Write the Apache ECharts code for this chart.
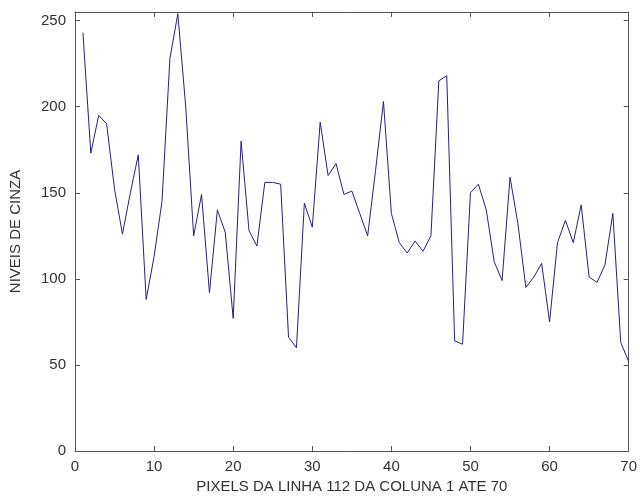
<!DOCTYPE html>
<html>
<head>
<meta charset="utf-8">
<script src="https://cdn.jsdelivr.net/npm/echarts@6/dist/echarts.min.js"></script>
<style>
html,body{margin:0;padding:0;background:#fff;}
#c{width:640px;height:502px;}
</style>
</head>
<body>
<div id="c"></div>
<script>
const pixelIndex = [1,2,3,4,5,6,7,8,9,10,11,12,13,14,15,16,17,18,19,20,21,22,23,24,25,26,27,28,29,30,31,32,33,34,35,36,37,38,39,40,41,42,43,44,45,46,47,48,49,50,51,52,53,54,55,56,57,58,59,60,61,62,63,64,65,66,67,68,69,70];
const grayLevels = [243,173,195,190,152,126,150,172,88,113,145,228,254,200,125,149,92,140,127,77,180,128,119,156,156,155,66,60,144,130,191,160,167,149,151,138,125,163,203,138,121,115,122,116,125,215,218,64,62,150,155,140,110,99,159,132,95,101,109,75,121,134,121,143,101,98,108,138,63,52];
const xTitle = 'PIXELS DA LINHA 112 DA COLUNA 1 ATE 70';
const yTitle = 'NIVEIS DE CINZA';

const chart = echarts.init(document.getElementById('c'), null, {renderer:'canvas'});
const font = 'Liberation Sans, Arial, sans-serif';
const axisCol = '#555';
const txtCol = '#333';
const data = pixelIndex.map((x,i)=>[x, grayLevels[i]]);
chart.setOption({
  backgroundColor:'#fff',
  animation:false,
  grid:{left:75,right:7,top:12,bottom:51,containLabel:false},
  xAxis:[{
    type:'value',min:0,max:70,interval:10,position:'bottom',
    name:xTitle,nameLocation:'middle',nameGap:28,
    nameTextStyle:{fontFamily:font,fontSize:15,color:txtCol},
    axisLine:{show:true,onZero:false,lineStyle:{color:axisCol,width:1}},
    axisTick:{show:true,inside:true,length:5,lineStyle:{color:axisCol}},
    axisLabel:{fontFamily:font,fontSize:15,color:txtCol,margin:8},
    splitLine:{show:false}
  },{
    type:'value',min:0,max:70,interval:10,position:'top',
    axisLine:{show:true,onZero:false,lineStyle:{color:axisCol,width:1}},
    axisTick:{show:true,inside:true,length:5,lineStyle:{color:axisCol}},
    axisLabel:{show:false},splitLine:{show:false}
  }],
  yAxis:[{
    type:'value',min:0,max:255,interval:50,position:'left',
    name:yTitle,nameLocation:'middle',nameGap:52,nameRotate:90,
    nameTextStyle:{fontFamily:font,fontSize:15,color:txtCol},
    axisLine:{show:true,onZero:false,lineStyle:{color:axisCol,width:1}},
    axisTick:{show:true,inside:true,length:5,lineStyle:{color:axisCol}},
    axisLabel:{fontFamily:font,fontSize:15,color:txtCol,margin:9,showMaxLabel:false},
    splitLine:{show:false}
  },{
    type:'value',min:0,max:255,interval:50,position:'right',
    axisLine:{show:true,onZero:false,lineStyle:{color:axisCol,width:1}},
    axisTick:{show:true,inside:true,length:5,lineStyle:{color:axisCol}},
    axisLabel:{show:false},splitLine:{show:false}
  }],
  series:[{
    type:'line',data:data,xAxisIndex:0,yAxisIndex:0,
    showSymbol:false,symbol:'none',
    lineStyle:{color:'#23237f',width:1},
    clip:true
  }]
});
</script>
</body>
</html>
